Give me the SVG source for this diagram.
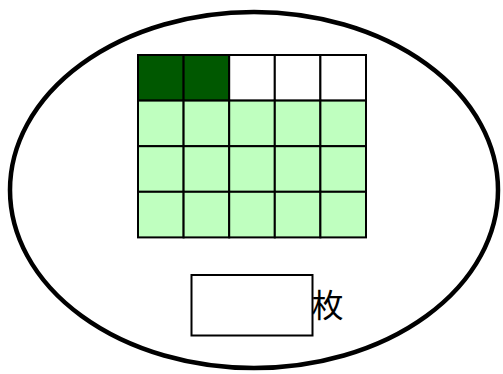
<svg xmlns="http://www.w3.org/2000/svg" width="503" height="374" viewBox="0 0 503 374">
<style>
.c{stroke:#000;stroke-width:2}
.d{fill:#005800}
.w{fill:#fff}
.l{fill:#bfffbf}
.t{font-family:"Noto Sans CJK JP","Noto Sans CJK SC",sans-serif;font-size:32px;fill:#000}
</style>
<rect width="503" height="374" fill="#fff"/>
<g id="ellipse"><ellipse cx="254" cy="190" rx="244" ry="178" fill="none" stroke="#000" stroke-width="4.5"/></g>
<g id="grid">
<rect class="c d" x="138" y="55" width="45.6" height="45.6"/>
<rect class="c d" x="183.6" y="55" width="45.6" height="45.6"/>
<rect class="c w" x="229.2" y="55" width="45.6" height="45.6"/>
<rect class="c w" x="274.8" y="55" width="45.6" height="45.6"/>
<rect class="c w" x="320.4" y="55" width="45.6" height="45.6"/>
<rect class="c l" x="138" y="100.6" width="45.6" height="45.6"/>
<rect class="c l" x="183.6" y="100.6" width="45.6" height="45.6"/>
<rect class="c l" x="229.2" y="100.6" width="45.6" height="45.6"/>
<rect class="c l" x="274.8" y="100.6" width="45.6" height="45.6"/>
<rect class="c l" x="320.4" y="100.6" width="45.6" height="45.6"/>
<rect class="c l" x="138" y="146.2" width="45.6" height="45.6"/>
<rect class="c l" x="183.6" y="146.2" width="45.6" height="45.6"/>
<rect class="c l" x="229.2" y="146.2" width="45.6" height="45.6"/>
<rect class="c l" x="274.8" y="146.2" width="45.6" height="45.6"/>
<rect class="c l" x="320.4" y="146.2" width="45.6" height="45.6"/>
<rect class="c l" x="138" y="191.8" width="45.6" height="45.6"/>
<rect class="c l" x="183.6" y="191.8" width="45.6" height="45.6"/>
<rect class="c l" x="229.2" y="191.8" width="45.6" height="45.6"/>
<rect class="c l" x="274.8" y="191.8" width="45.6" height="45.6"/>
<rect class="c l" x="320.4" y="191.8" width="45.6" height="45.6"/>
</g>
<g id="answer-box"><rect class="c w" x="191.5" y="275" width="121" height="60.5"/></g>
<g id="unit"><text class="t" x="311.5" y="317">枚</text></g>
<g id="connectors"/>
</svg>
